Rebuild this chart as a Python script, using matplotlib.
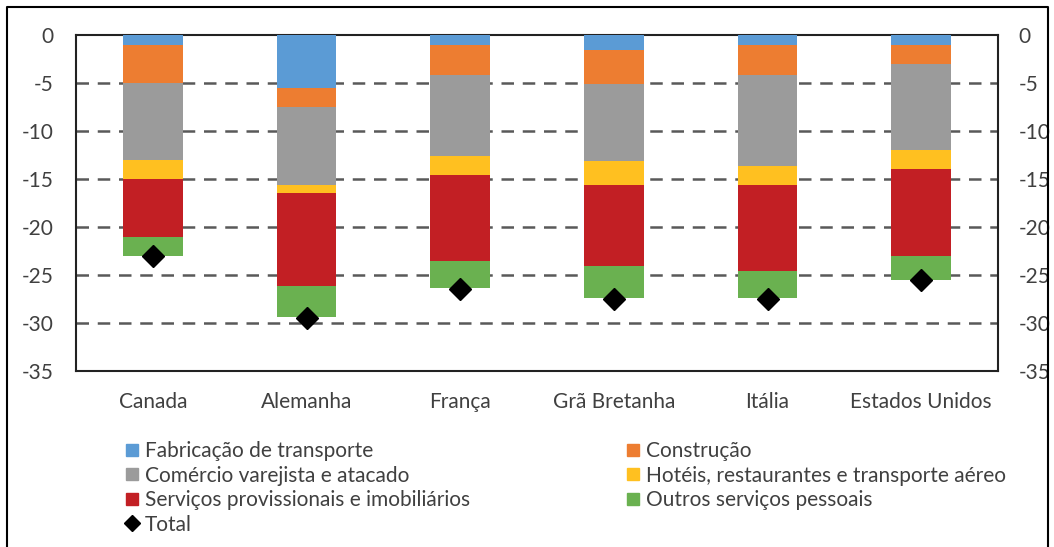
import numpy as np
import matplotlib
matplotlib.use("Agg")
import matplotlib.pyplot as plt
from matplotlib.lines import Line2D

plt.rcParams['font.family'] = ['Lato', 'DejaVu Sans']
plt.rcParams['axes.unicode_minus'] = False

paises = ["Canada", "Alemanha", "França", "Grã Bretanha", "Itália", "Estados Unidos"]

fabricacao = [-1.0, -5.5, -1.0, -1.6, -1.0, -1.0]
construcao = [-4.0, -2.0, -3.2, -3.5, -3.2, -2.0]
comercio = [-8.0, -8.1, -8.4, -8.0, -9.4, -9.0]
hoteis = [-2.0, -0.9, -2.0, -2.5, -2.0, -2.0]
servicos = [-6.0, -9.6, -8.9, -8.5, -9.0, -9.0]
outros = [-2.0, -3.3, -2.9, -3.3, -2.8, -2.5]
total = [-23.0, -29.5, -26.5, -27.5, -27.5, -25.5]

series = [
    ("Fabricação de transporte", fabricacao, "#5B9BD5"),
    ("Construção", construcao, "#ED7D31"),
    ("Comércio varejista e atacado", comercio, "#9B9B9B"),
    ("Hotéis, restaurantes e transporte aéreo", hoteis, "#FFC020"),
    ("Serviços provissionais e imobiliários", servicos, "#C21F24"),
    ("Outros serviços pessoais", outros, "#6AB150"),
]

txt = "#404040"
fs = 15

fig = plt.figure(figsize=(10.54, 5.47), dpi=100)
ax = fig.add_axes([76 / 1054, 1 - 371 / 547, 922 / 1054, 336 / 547])

x = np.arange(len(paises))
base = np.zeros(len(paises))
for nome, vals, cor in series:
    ax.bar(x, vals, width=0.39, bottom=base, color=cor, zorder=3)
    base = base + np.array(vals)

ax.plot(x, total, linestyle="none", marker="D", color="black", markersize=11, zorder=4)

ax.set_xlim(-0.5, len(paises) - 0.5)
ax.set_ylim(-35, 0)
ax.set_yticks(np.arange(-35, 1, 5))
for yv in range(-30, 0, 5):
    ax.axhline(yv, color="#595959", linestyle=(0, (5, 3.5)), linewidth=1.8, zorder=1)

ax.set_xticks(x)
ax.set_xticklabels(paises, fontsize=fs, color=txt)
ax.tick_params(axis="x", length=0, pad=15)
ax.tick_params(axis="y", length=0, pad=16, labelsize=fs, labelcolor=txt)
for s in ax.spines.values():
    s.set_color("#222222")
    s.set_linewidth(1.5)

ax2 = ax.twinx()
ax2.set_ylim(-35, 0)
ax2.set_yticks(np.arange(-35, 1, 5))
ax2.tick_params(axis="y", length=0, pad=15, labelsize=fs, labelcolor=txt)
for s in ax2.spines.values():
    s.set_visible(False)

h1 = [Line2D([], [], linestyle="none", marker="s", markersize=9, color=series[i][2]) for i in (0, 2, 4)]
h1.append(Line2D([], [], linestyle="none", marker="D", markersize=8, color="black"))
l1 = [series[i][0] for i in (0, 2, 4)] + ["Total"]
h2 = [Line2D([], [], linestyle="none", marker="s", markersize=9, color=series[i][2]) for i in (1, 3, 5)]
l2 = [series[i][0] for i in (1, 3, 5)]

for hs, ls, xpos in ((h1, l1, 124), (h2, l2, 625)):
    leg = fig.legend(hs, ls, loc="upper left", bbox_to_anchor=(xpos / 1054, 1 - 441 / 547),
                     frameon=False, fontsize=fs, handlelength=0.8, handletextpad=0.2,
                     labelspacing=0.22, borderpad=0, borderaxespad=0)
    for t in leg.get_texts():
        t.set_color(txt)

# moldura externa
fig.add_artist(Line2D([7 / 1054, 7 / 1054, 1048 / 1054, 1048 / 1054],
                      [0, 1 - 7 / 547, 1 - 7 / 547, 0],
                      transform=fig.transFigure, color="black", linewidth=1.5))

fig.savefig("out.png", dpi=100)
